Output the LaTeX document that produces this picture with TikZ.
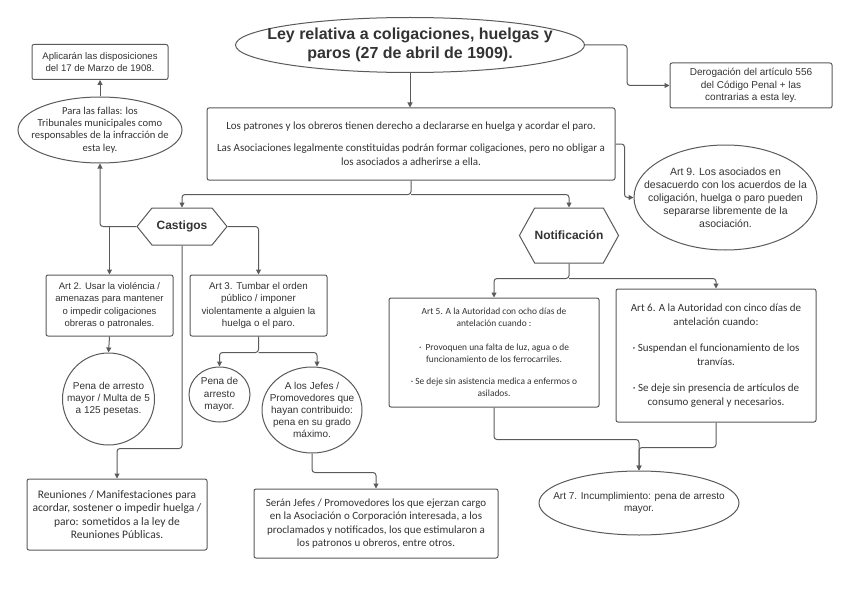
\documentclass[tikz,border=0pt]{standalone}
\usepackage{fontspec}
\setmainfont{Liberation Sans}
\newfontfamily\carlito{Carlito}
\usetikzlibrary{shapes.geometric,shapes.symbols,arrows.meta}
\definecolor{linea}{HTML}{5A5A5A}
\definecolor{texto}{HTML}{333333}

\begin{document}
\begin{tikzpicture}[x=1pt,y=-1pt,
    caja/.style={draw=linea, line width=1pt, rounded corners=2pt, fill=white, text=texto, align=center, inner sep=1pt},
    ovalo/.style={ellipse, draw=linea, line width=1pt, fill=white, text=texto, align=center, inner sep=-40pt},
    hexa/.style={signal, signal to=west and east, draw=linea, line width=1pt, fill=white, text=texto,
        inner sep=0pt, font=\bfseries\fontsize{12}{14}\selectfont},
    arial/.style={font=\fontsize{#1}{12.2}\selectfont},
    calib/.style={font=\carlito\fontsize{#1}{13.3}\selectfont},
    flecha/.style={draw=linea, line width=1pt, rounded corners=3pt, -{Triangle[length=5pt,width=5pt]}}
]
\useasboundingbox (0,0) rectangle (848,599);

% ley y derogacion
\node[ovalo, minimum width=349pt, minimum height=55pt, font=\bfseries\fontsize{16}{19}\selectfont]
    (titulo) at (410,45) {Ley relativa a coligaciones, huelgas y\\paros (27 de abril de 1909).};
\node[caja, font=\fontsize{10}{12.5}\selectfont, minimum width=162pt, minimum height=45pt] (deroga) at (751,85.5)
    {Derogación del artículo 556\\del Código Penal + las\\contrarias a esta ley.};
\node[caja, font=\carlito\fontsize{11}{14}\selectfont, minimum width=408pt, minimum height=72pt] (principal) at (411,144)
    {Los patrones y los obreros tienen derecho a declararse en huelga y acordar el paro.\\[8pt]
     Las Asociaciones legalmente constituidas podrán formar coligaciones, pero no obligar a\\
     los asociados a adherirse a ella.};
\node[ovalo, font=\fontsize{10.5}{13}\selectfont, minimum width=183pt, minimum height=105pt] (art9) at (725.5,197.5)
    {Art 9. Los asociados en\\desacuerdo con los acuerdos de la\\coligación, huelga o paro pueden\\separarse libremente de la\\asociación.};

% castigos
\node[hexa, signal pointer angle=102, minimum width=90pt, minimum height=37pt] (castigos) at (182,226.5) {Castigos};
\node[caja, arial=9.6, minimum width=136pt, minimum height=35pt] (aplica) at (100,62)
    {Aplicarán las disposiciones\\del 17 de Marzo de 1908.};
\node[ovalo, font=\carlito\fontsize{10.6}{12.3}\selectfont, minimum width=164pt, minimum height=66pt] (fallas) at (100,130)
    {Para las fallas: los\\Tribunales municipales como\\responsables de la infracción de\\esta ley.};
\node[caja, arial=9.5, minimum width=127pt, minimum height=61pt] (art2) at (109.5,305.5)
    {Art 2. Usar la violéncia /\\amenazas para mantener\\o impedir coligaciones\\obreras o patronales.};
\node[caja, arial=9.8, minimum width=137pt, minimum height=61pt] (art3) at (258.5,305.5)
    {Art 3. Tumbar el orden\\público / imponer\\violentamente a alguien la\\huelga o el paro.};
\node[circle, draw=linea, line width=1pt, text=texto, align=center, inner sep=-10pt, arial=10, minimum size=92pt]
    (pena1) at (108.5,399) {Pena de arresto\\mayor / Multa de 5\\a 125 pesetas.};
\node[ovalo, arial=10, minimum width=61pt, minimum height=55pt] (pena2) at (219.5,394.5) {Pena de\\arresto\\mayor.};
\node[ovalo, arial=10, minimum width=100pt, minimum height=86pt] (jefes) at (312,410)
    {A los Jefes /\\Promovedores que\\hayan contribuido:\\pena en su grado\\máximo.};
\node[caja, calib=11.5, minimum width=180pt, minimum height=71pt] (reuniones) at (117,514.5)
    {Reuniones / Manifestaciones para\\acordar, sostener o impedir huelga /\\paro: sometidos a la ley de\\Reuniones Públicas.};
\node[caja, calib=11, minimum width=244pt, minimum height=69pt] (seran) at (376,523.5)
    {Serán Jefes / Promovedores los que ejerzan cargo\\en la Asociación o Corporación interesada, a los\\
     proclamados y notificados, los que estimularon a\\los patronos u obreros, entre otros.};

% notificacion
\node[hexa, signal pointer angle=122, minimum width=90pt, minimum height=55pt] (notif) at (569,235.5) {Notificación};
\node[caja, font=\carlito\fontsize{9.4}{12}\selectfont, minimum width=210pt, minimum height=109pt] (art5) at (494,352.5)
    {Art 5. A la Autoridad con ocho días de\\antelación cuando :\\[12pt]
     ·\ \ Provoquen una falta de luz, agua o de\\funcionamiento de los ferrocarriles.\\[10pt]
     · Se deje sin asistencia medica a enfermos o\\asilados.};
\node[caja, font=\carlito\fontsize{11}{13.8}\selectfont, minimum width=200pt, minimum height=133pt] (art6) at (716,355.5)
    {Art 6. A la Autoridad con cinco días de\\antelación cuando:\\[12.5pt]
     · Suspendan el funcionamiento de los\\tranvías.\\[12.5pt]
     · Se deje sin presencia de artículos de\\consumo general y necesarios.};
\node[ovalo, font=\fontsize{10}{12.5}\selectfont, minimum width=200pt, minimum height=64pt] (art7) at (639,503)
    {Art 7. Incumplimiento: pena de arresto\\mayor.};

% conexiones
\draw[flecha] (titulo.south) -- (titulo.south |- principal.north);
\draw[flecha] (titulo.east) -- ++(42,0) |- (deroga.west);
\draw[flecha] (principal.east) -- ++(9,0) |- (art9.west);
\draw[flecha] (principal.south) -- ++(0,14) coordinate (rama1) -| (castigos.north);
\draw[flecha] (rama1) -| (notif.north);
\draw[flecha] (castigos.west) -| (fallas.south);
\draw[flecha] (fallas.north) -- (aplica.south);
\draw[flecha] (castigos.west -| art2.north) -- (art2.north);
\draw[flecha] (castigos.east) -| (art3.north);
\draw[flecha] (castigos.south) -- ++(0,203) -| (reuniones.north);
\draw[flecha] (art2.south) -- (pena1.north);
\draw[flecha] (art3.south) -- ++(0,16) coordinate (rama2) -| (pena2.north);
\draw[flecha] (rama2) -| ([xshift=5pt]jefes.north);
\draw[flecha] (jefes.south) -- ++(0,19) -| (seran.north);
\draw[flecha] (notif.south) -- ++(0,15) coordinate (rama3) -| (art5.north);
\draw[flecha] (rama3) -| (art6.north);
\draw[flecha] (art5.south) -- ++(0,32) -| (art7.north);
\draw[flecha] (art6.south) -- ++(0,25) -| (art7.north);
\end{tikzpicture}
\end{document}
